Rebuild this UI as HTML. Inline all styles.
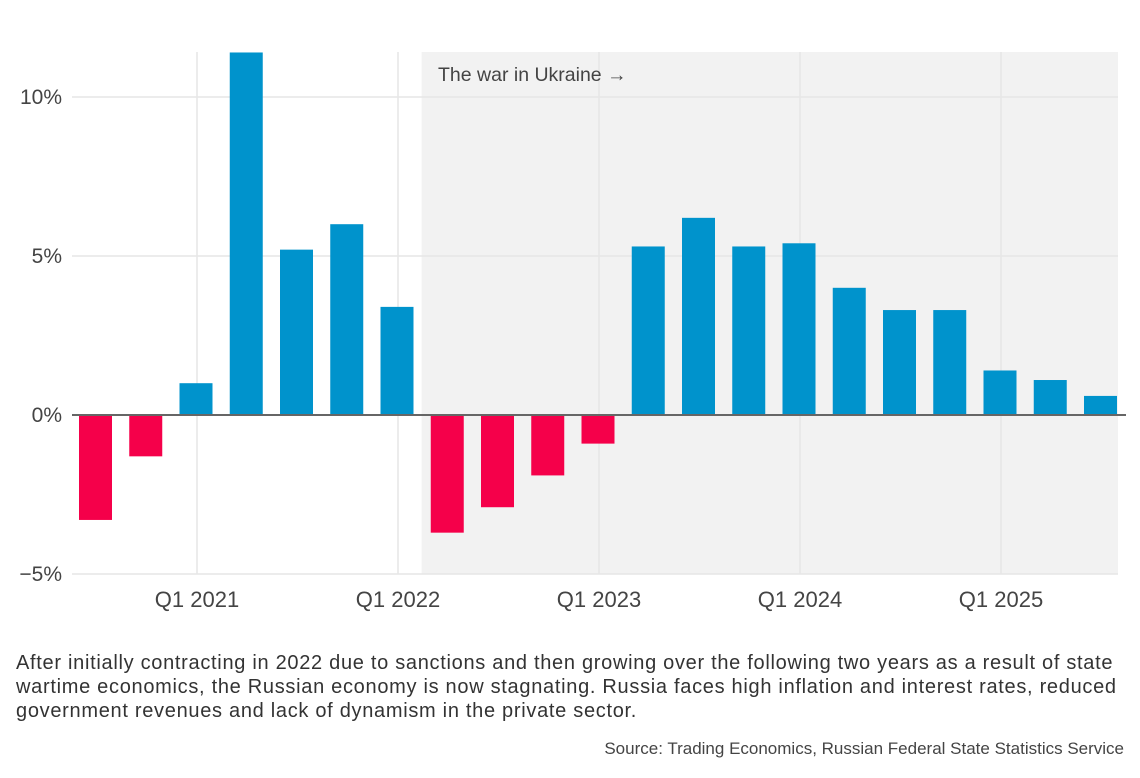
<!DOCTYPE html>
<html><head><meta charset="utf-8"><style>
body{margin:0;background:#fff;font-family:"Liberation Sans",sans-serif;}
#wrap{position:relative;width:1140px;height:778px;overflow:hidden}
.cap{position:absolute;left:16px;top:651px;width:1124px;font-size:20px;line-height:24px;color:#333;white-space:nowrap;letter-spacing:0.7px}
.src{position:absolute;right:16px;top:739px;font-size:17px;color:#444}
</style></head><body><div id="wrap">
<svg id="chart" width="1140" height="640" style="position:absolute;left:0;top:0"></svg>
<div class="cap">After initially contracting in 2022 due to sanctions and then growing over the following two years as a result of state<br>wartime economics, the Russian economy is now stagnating. Russia faces high inflation and interest rates, reduced<br>government revenues and lack of dynamism in the private sector.</div>
<div class="src">Source: Trading Economics, Russian Federal State Statistics Service</div>
</div>
<script>
const quarters=["Q3 2020","Q4 2020","Q1 2021","Q2 2021","Q3 2021","Q4 2021","Q1 2022","Q2 2022","Q3 2022","Q4 2022","Q1 2023","Q2 2023","Q3 2023","Q4 2023","Q1 2024","Q2 2024","Q3 2024","Q4 2024","Q1 2025","Q2 2025","Q3 2025"];
const values=[-3.3,-1.3,1.0,11.4,5.2,6.0,3.4,-3.7,-2.9,-1.9,-0.9,5.3,6.2,5.3,5.4,4.0,3.3,3.3,1.4,1.1,0.6];
const yTicks=[10,5,0,-5];
const yTickLabels=["10%","5%","0%","\u22125%"];
const xTickLabels=["Q1 2021","Q1 2022","Q1 2023","Q1 2024","Q1 2025"];
const warStart="Q2 2022";
const NS="http://www.w3.org/2000/svg";
const svg=document.getElementById('chart');
const top0=52,bot=574,left0=72,right0=1118;
const y=v=>415-v*31.8;
const step=50.25;
const x=i=>95.5+i*step;
const clampY=v=>Math.max(top0,y(v));
function mk(t,a){const e=document.createElementNS(NS,t);for(const k in a)e.setAttribute(k,a[k]);svg.appendChild(e);return e;}
const wi=quarters.indexOf(warStart);
const sh=mk('rect',{x:x(wi)-step/2-0.5,y:top0,width:right0-(x(wi)-step/2-0.5),height:bot-top0,fill:'#f2f2f2'});


yTicks.forEach((t,i)=>{
 if(t!==0){const g=mk('line',{x1:left0,x2:right0,y1:y(t),y2:y(t),stroke:'#e6e6e6','stroke-width':1.5});
 
 }
 const l=mk('text',{x:62,y:y(t)+7,'text-anchor':'end','font-size':21,fill:'#444'});l.textContent=yTickLabels[i];
 
 
});
xTickLabels.forEach(lbl=>{
 const i=quarters.indexOf(lbl);
 const g=mk('line',{x1:x(i)+1,x2:x(i)+1,y1:top0,y2:bot,stroke:'#e6e6e6','stroke-width':1.5});
 
 
 const t=mk('text',{x:x(i)+1,y:607,'text-anchor':'middle','font-size':22,fill:'#444'});t.textContent=lbl;
 
 
});
const ann=mk('text',{x:438,y:81,'font-size':19.5,fill:'#444'});ann.textContent="The war in Ukraine \u2192";


values.forEach((v,i)=>{
 const y1=clampY(Math.max(v,0)),y2=y(Math.min(v,0));
 const r=mk('rect',{x:x(i)-16.5,y:y1,width:33,height:Math.max(0,y2-y1),fill:v<0?'#f5004a':'#0093cc'});
 
 
});
const z=mk('line',{x1:left0,x2:right0+8,y1:y(0),y2:y(0),stroke:'#666','stroke-width':2});


</script></body></html>
